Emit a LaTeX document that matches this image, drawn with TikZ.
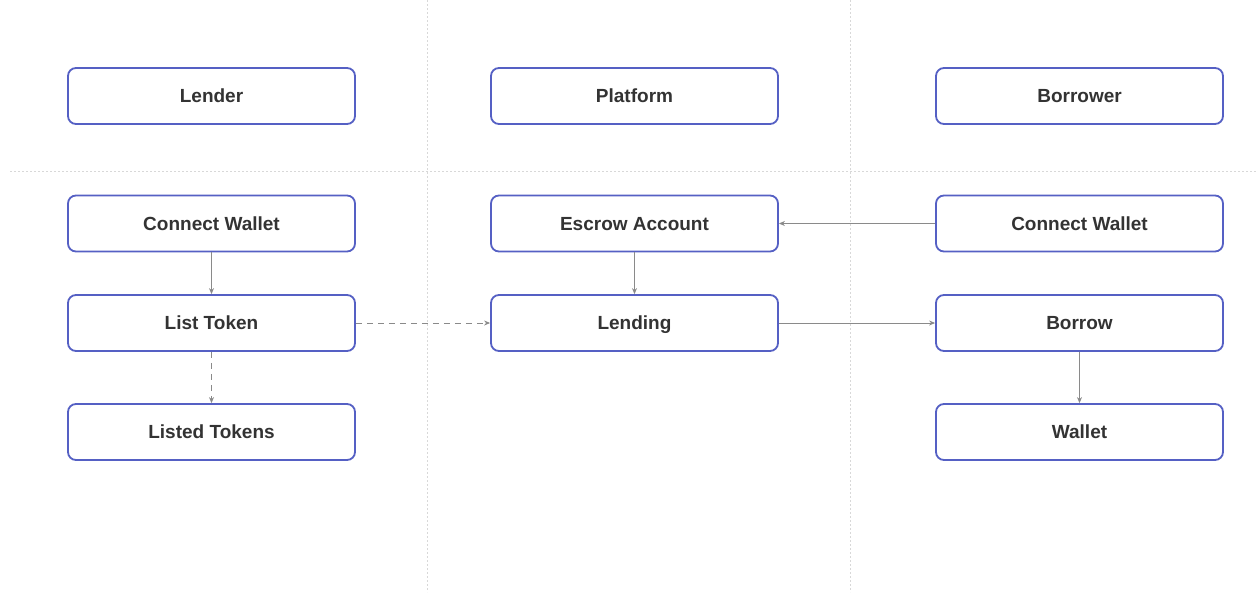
\documentclass[tikz,border=0pt]{standalone}
\usepackage{fontspec}
\setmainfont{Liberation Sans}
\usetikzlibrary{arrows.meta}
\definecolor{boxblue}{HTML}{5560C4}
\definecolor{linegray}{HTML}{8A8A8A}
\definecolor{gridgray}{HTML}{D8D8D8}
\tikzset{
  card/.style={draw=boxblue, line width=1.8pt, rounded corners=8pt, fill=white,
    minimum width=287pt, minimum height=56pt, inner sep=0pt,
    text height=13pt, text depth=0pt,
    font=\fontsize{19}{22}\selectfont\bfseries, text=black!80},
  flow/.style={draw=linegray, line width=0.9pt, -{Stealth[length=6pt,width=5pt]}},
  flowdash/.style={flow, dash pattern=on 6pt off 5pt},
  lane/.style={draw=gridgray, line width=1pt, dash pattern=on 2pt off 2pt}
}
\begin{document}
\begin{tikzpicture}[x=1pt,y=-1pt]
  \useasboundingbox[fill=white] (0,0) rectangle (1258,592);
  % swimlane separators
  \draw[lane] (427,0) -- (427,592);
  \draw[lane] (850,0) -- (850,592);
  \draw[lane] (10,171) -- (1258,171);
  % lane headers
  \node[card] (lender)   at (211.5,96) {Lender};
  \node[card] (platform) at (634.5,96) {Platform};
  \node[card] (borrower) at (1079.5,96) {Borrower};
  % lender column
  \node[card] (lwallet) at (211.5,223.5) {Connect Wallet};
  \node[card] (list)    at (211.5,323)   {List Token};
  \node[card] (listed)  at (211.5,432)   {Listed Tokens};
  % platform column
  \node[card] (escrow)  at (634.5,223.5) {Escrow Account};
  \node[card] (lending) at (634.5,323)   {Lending};
  % borrower column
  \node[card] (bwallet) at (1079.5,223.5) {Connect Wallet};
  \node[card] (borrow)  at (1079.5,323)   {Borrow};
  \node[card] (wallet)  at (1079.5,432)   {Wallet};
  % connectors
  \draw[flow] (lwallet) -- (list);
  \draw[flowdash] (list) -- (listed);
  \draw[flowdash] (list) -- (lending);
  \draw[flow] (escrow) -- (lending);
  \draw[flow] (bwallet) -- (escrow);
  \draw[flow] (lending) -- (borrow);
  \draw[flow] (borrow) -- (wallet);
\end{tikzpicture}
\end{document}
